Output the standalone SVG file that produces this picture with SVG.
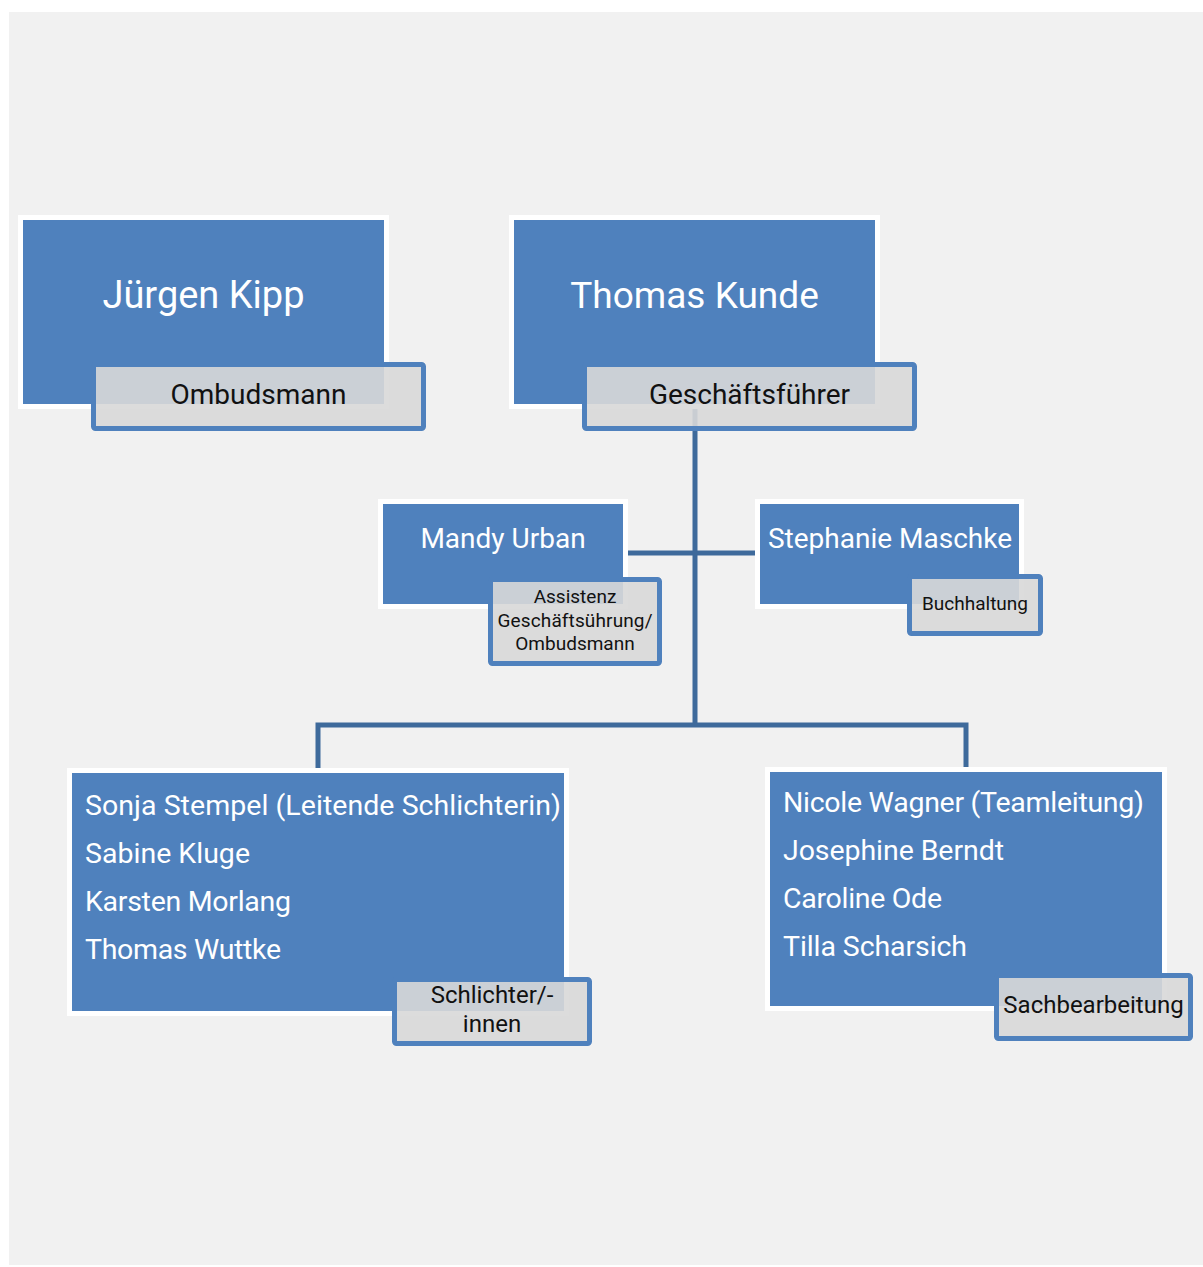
<svg xmlns="http://www.w3.org/2000/svg" width="1203" height="1267" viewBox="0 0 1203 1267">
<style>
.box{fill:#4f81bd;stroke:#ffffff;stroke-width:5}
.lab{fill:#d8d8d8;fill-opacity:0.9;stroke:#4f81bd;stroke-width:5}
.conn{fill:none;stroke:#3e6a9b;stroke-width:5;stroke-linejoin:miter}
text{font-family:Roboto,"Liberation Sans",sans-serif}
.w{fill:#ffffff}
.b{fill:#111111}
.c{text-anchor:middle}
.t{font-size:28.5px}
</style>
<rect x="0" y="0" width="1203" height="1267" fill="#ffffff"/>
<rect x="9" y="12" width="1194" height="1253" fill="#f1f1f1"/>
<g id="connectors">
<path class="conn" d="M695 409 V727"/>
<path class="conn" d="M627 553 H755"/>
<path class="conn" d="M318 768 V725 H966 V768"/>
</g>
<g id="juergen-kipp">
<rect class="box" x="20.5" y="217.5" width="366" height="189"/>
<text class="w c" x="203.5" y="308" font-size="38">Jürgen Kipp</text>
<rect class="lab" x="93.5" y="364.5" width="330" height="64" rx="2"/>
<text class="b c" x="258.5" y="404" font-size="28">Ombudsmann</text>
</g>
<g id="thomas-kunde">
<rect class="box" x="511.5" y="217.5" width="366" height="189"/>
<text class="w c" x="694.5" y="308" font-size="37">Thomas Kunde</text>
<rect class="lab" x="584.5" y="364.5" width="330" height="64" rx="2"/>
<text class="b c" x="749.5" y="404" font-size="28">Geschäftsführer</text>
</g>
<g id="mandy-urban">
<rect class="box" x="380.5" y="501.5" width="245" height="105"/>
<text class="w c" x="503" y="548" font-size="28">Mandy Urban</text>
<rect class="lab" x="490.5" y="579.5" width="169" height="84" rx="2"/>
<text class="b c" x="575" y="603" font-size="19">Assistenz</text>
<text class="b c" x="575" y="627" font-size="19" textLength="155">Geschäftsührung/</text>
<text class="b c" x="575" y="650" font-size="19">Ombudsmann</text>
</g>
<g id="stephanie-maschke">
<rect class="box" x="757.5" y="501.5" width="264" height="105"/>
<text class="w c" x="890" y="548" font-size="28">Stephanie Maschke</text>
<rect class="lab" x="909.5" y="576.5" width="131" height="57" rx="2"/>
<text class="b c" x="975" y="610" font-size="19">Buchhaltung</text>
</g>
<g id="schlichter">
<rect class="box" x="69.5" y="770.5" width="497" height="243"/>
<text class="w t" x="85" y="815" textLength="476">Sonja Stempel (Leitende Schlichterin)</text>
<text class="w t" x="85" y="863" textLength="165">Sabine Kluge</text>
<text class="w t" x="85" y="911" textLength="206">Karsten Morlang</text>
<text class="w t" x="85" y="959" textLength="196">Thomas Wuttke</text>
<rect class="lab" x="394.5" y="979.5" width="195" height="64" rx="2"/>
<text class="b c" x="492" y="1003" font-size="24">Schlichter/-</text>
<text class="b c" x="492" y="1032" font-size="24">innen</text>
</g>
<g id="sachbearbeitung">
<rect class="box" x="767.5" y="769.5" width="397" height="239"/>
<text class="w t" x="783" y="812" textLength="361">Nicole Wagner (Teamleitung)</text>
<text class="w t" x="783" y="860" textLength="221">Josephine Berndt</text>
<text class="w t" x="783" y="908" textLength="159">Caroline Ode</text>
<text class="w t" x="783" y="956" textLength="184">Tilla Scharsich</text>
<rect class="lab" x="996.5" y="975.5" width="194" height="63" rx="2"/>
<text class="b c" x="1093.5" y="1013" font-size="24">Sachbearbeitung</text>
</g>
</svg>
